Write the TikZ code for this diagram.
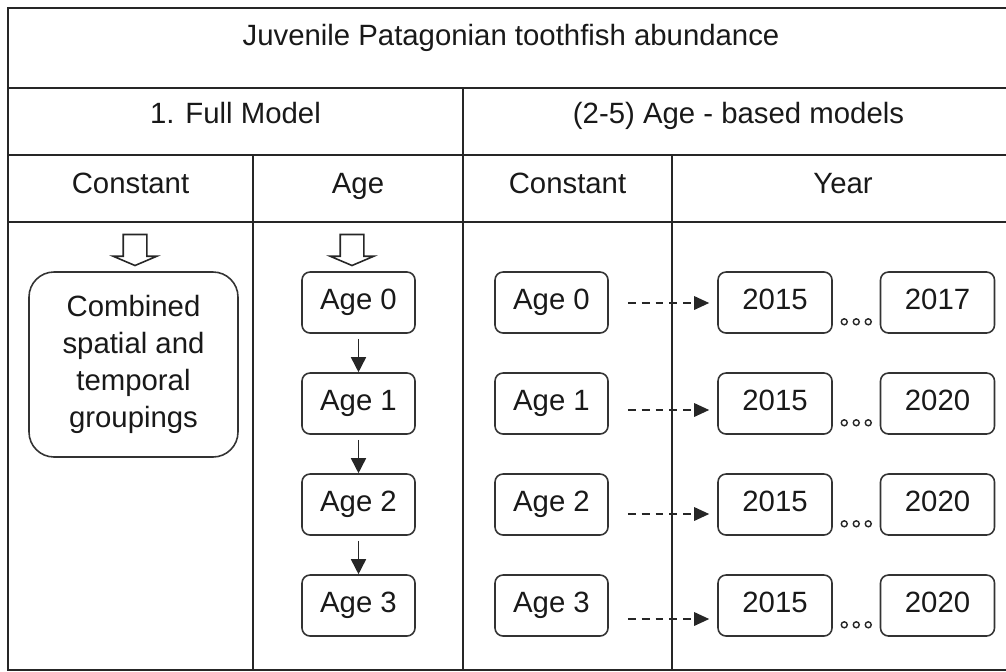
\documentclass[tikz,border=0pt]{standalone}
\usepackage{fontspec}
\setmainfont{Liberation Sans}
\usetikzlibrary{arrows.meta,shapes.arrows,calc}

\begin{document}
\begin{tikzpicture}[
        node distance=2.02cm,
        font=\fontsize{16.7}{21}\selectfont,
        grid/.style={line width=1.2pt, draw=black!85},
        header/.style={anchor=base, text=black!90},
        box/.style={
            draw=black!80,
            line width=0.9pt,
            inner sep=0pt,
            text=black!90
        },
        agebox/.style={
            box,
            rounded corners=0.16cm,
            minimum width=2.26cm,
            minimum height=1.22cm,
            text height=12pt,
            text depth=3.5pt
        },
        yearbox/.style={agebox, minimum width=2.28cm},
        downarrow/.style={
            single arrow,
            draw=black!85,
            line width=0.9pt,
            rotate=-90,
            inner xsep=0pt,
            inner ysep=0.22cm,
            minimum height=0.62cm,
            single arrow head extend=0.2cm,
            single arrow tip angle=134
        },
        flow/.style={-{Triangle[length=0.3cm,width=0.3cm]}, line width=0.9pt, draw=black!85},
        link/.style={flow, dash pattern=on 4.5pt off 3.4pt, -{Triangle[length=0.3cm,width=0.27cm]}}
    ]
    \useasboundingbox (0,0) rectangle (20.12,-13.42);
    \clip (0,0) rectangle (20.12,-13.42);

    % table
    \draw[grid] (0.16,-0.16) rectangle (20.28,-13.40);
    \draw[grid] (0.16,-1.76) -- (20.28,-1.76);
    \draw[grid] (0.16,-3.10) -- (20.28,-3.10);
    \draw[grid] (0.16,-4.44) -- (20.28,-4.44);
    \draw[grid] (9.26,-1.76) -- (9.26,-13.40);
    \draw[grid] (5.06,-3.10) -- (5.06,-13.40);
    \draw[grid] (13.44,-3.10) -- (13.44,-13.40);

    % headings
    \node[header] (title) at (10.22,-0.90) {Juvenile Patagonian toothfish abundance};
    \node[header] (full) at (4.71,-2.46) {1. Full Model};
    \node[header] (agebased) at (14.77,-2.46) {(2-5) Age - based models};
    \node[header] (hconst1) at (2.61,-3.86) {Constant};
    \node[header] (hage) at (7.16,-3.86) {Age};
    \node[header] (hconst2) at (11.35,-3.86) {Constant};
    \node[header] (hyear) at (16.86,-3.86) {Year};

    \node[downarrow] (harrow1) at (2.70,-4.95) {};
    \node[downarrow] (harrow2) at (7.04,-4.95) {};

    % full model
    \node[
        box,
        rounded corners=0.5cm,
        minimum width=4.18cm,
        minimum height=3.70cm,
        align=center
    ] (combined) at (2.67,-7.29) {Combined\\spatial and\\temporal\\groupings};

    \node[agebox] (a0) at (7.17,-6.05) {Age 0};
    \node[agebox, below of=a0] (a1) {Age 1};
    \node[agebox, below of=a1] (a2) {Age 2};
    \node[agebox, below of=a2] (a3) {Age 3};
    \draw[flow] ([yshift=-0.1cm]a0.south) -- (a1.north);
    \draw[flow] ([yshift=-0.1cm]a1.south) -- (a2.north);
    \draw[flow] ([yshift=-0.1cm]a2.south) -- (a3.north);

    % age-based models
    \node[agebox] (c0) at (11.03,-6.05) {Age 0};
    \node[agebox, below of=c0] (c1) {Age 1};
    \node[agebox, below of=c1] (c2) {Age 2};
    \node[agebox, below of=c2] (c3) {Age 3};

    \node[yearbox] (ya0) at (15.50,-6.05) {2015};
    \node[yearbox, below of=ya0] (ya1) {2015};
    \node[yearbox, below of=ya1] (ya2) {2015};
    \node[yearbox, below of=ya2] (ya3) {2015};
    \node[yearbox] (yb0) at (18.75,-6.05) {2017};
    \node[yearbox, below of=yb0] (yb1) {2020};
    \node[yearbox, below of=yb1] (yb2) {2020};
    \node[yearbox, below of=yb2] (yb3) {2020};

    \foreach \r/\dy in {0/-0.01, 1/-0.13, 2/-0.19, 3/-0.27}
        \draw[link] ([xshift=0.38cm,yshift=\dy cm]c\r.east) -- ([xshift=-0.16cm,yshift=\dy cm]ya\r.west);

    \foreach \r in {0,...,3}
        \foreach \dx in {-0.24,0,0.24}
            \draw[black!85, line width=0.8pt] ($(ya\r.south east)!0.5!(yb\r.south west)+(\dx,0.24)$) circle (0.06);
\end{tikzpicture}
\end{document}
